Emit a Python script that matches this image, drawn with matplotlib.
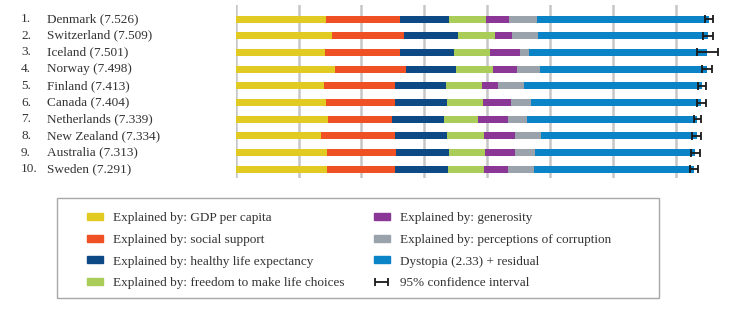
import numpy as np
import matplotlib.pyplot as plt
from matplotlib.patches import Patch, Rectangle
from matplotlib.transforms import blended_transform_factory

countries = ["Denmark", "Switzerland", "Iceland", "Norway", "Finland",
             "Canada", "Netherlands", "New Zealand", "Australia", "Sweden"]
scores = [7.526, 7.509, 7.501, 7.498, 7.413, 7.404, 7.339, 7.334, 7.313, 7.291]
ci_low = [7.460, 7.428, 7.333, 7.421, 7.351, 7.335, 7.284, 7.264, 7.241, 7.227]
ci_high = [7.592, 7.590, 7.669, 7.575, 7.475, 7.473, 7.394, 7.404, 7.385, 7.355]

gdp = [1.44178, 1.52733, 1.42666, 1.57744, 1.40598, 1.44015, 1.46468, 1.36066, 1.44443, 1.45181]
social = [1.16374, 1.14524, 1.18326, 1.12690, 1.13464, 1.09610, 1.02912, 1.17278, 1.10476, 1.08764]
health = [0.79504, 0.86303, 0.86733, 0.79579, 0.81091, 0.82760, 0.81231, 0.83096, 0.85120, 0.83121]
freedom = [0.57941, 0.58557, 0.56624, 0.59609, 0.57104, 0.57370, 0.55211, 0.58147, 0.56837, 0.58218]
generosity = [0.36171, 0.28083, 0.47678, 0.37895, 0.25492, 0.44834, 0.47416, 0.49401, 0.47407, 0.38254]
corruption = [0.44453, 0.41203, 0.14975, 0.35776, 0.41004, 0.31329, 0.29927, 0.41904, 0.32331, 0.40867]
dystopia = [2.73939, 2.69463, 2.83137, 2.66465, 2.82596, 2.70485, 2.70749, 2.47553, 2.54650, 2.54734]

labels = ["Explained by: GDP per capita", "Explained by: social support",
          "Explained by: healthy life expectancy", "Explained by: freedom to make life choices",
          "Explained by: generosity", "Explained by: perceptions of corruption",
          "Dystopia (2.33) + residual"]
colors = ["#E1CB23", "#EF5024", "#0D4A85", "#A9CD58", "#8A3795", "#9AA3AB", "#0A84C6"]
parts = [gdp, social, health, freedom, generosity, corruption, dystopia]

plt.rcParams['font.family'] = ['Liberation Serif', 'DejaVu Serif']
txt = "#333333"
W, H = 735, 333

fig = plt.figure(figsize=(7.35, 3.33), dpi=100)
ax = fig.add_axes([235.7 / W, 1 - 178 / H, 490.4 / W, 173 / H])

y = np.arange(len(countries))
left = np.zeros(len(countries))
handles = []
for vals, c, lab in zip(parts, colors, labels):
    ax.barh(y, vals, left=left, height=0.42, color=c, zorder=2)
    left += np.array(vals)
    handles.append(Patch(color=c, label=lab))

sc = np.array(scores)
err = [sc - np.array(ci_low), np.array(ci_high) - sc]
eb = ax.errorbar(sc, y, xerr=err, fmt='none', ecolor='#1a1a1a', elinewidth=1.3,
                 capsize=2.6, capthick=1.3, zorder=3, label="95% confidence interval")
handles.append(eb)

ax.set_xlim(0, 7.8)
ax.set_ylim(9.52, -0.84)
for g in range(8):
    ax.axvline(g, color="#c6c6c6", lw=1.8, zorder=1)
ax.axis('off')

tr = blended_transform_factory(fig.transFigure, ax.transData)
for i, (name, s) in enumerate(zip(countries, scores)):
    ax.text(21 / W, i, f"{i + 1}.", transform=tr, ha='left', va='center',
            fontsize=9.5, color=txt)
    ax.text(47 / W, i, f"{name} ({s:.3f})", transform=tr, ha='left', va='center',
            fontsize=9.5, color=txt)

# legend box
fig.patches.append(Rectangle((56.7 / W, 1 - 298.3 / H), (659.3 - 56.7) / W, 100 / H,
                             transform=fig.transFigure, fill=False,
                             edgecolor="#a8a8a8", lw=1.0))
leg = fig.legend(handles=handles, ncol=2, loc='upper left',
                 bbox_to_anchor=(86.7 / W, 1 - 212.5 / H),
                 frameon=False, fontsize=9.5, handlelength=1.21, handleheight=0.45,
                 labelspacing=0.72, borderpad=0, handletextpad=0.8,
                 columnspacing=2.2, borderaxespad=0)
for t in leg.get_texts():
    t.set_color(txt)

fig.savefig("out.png", dpi=100)
